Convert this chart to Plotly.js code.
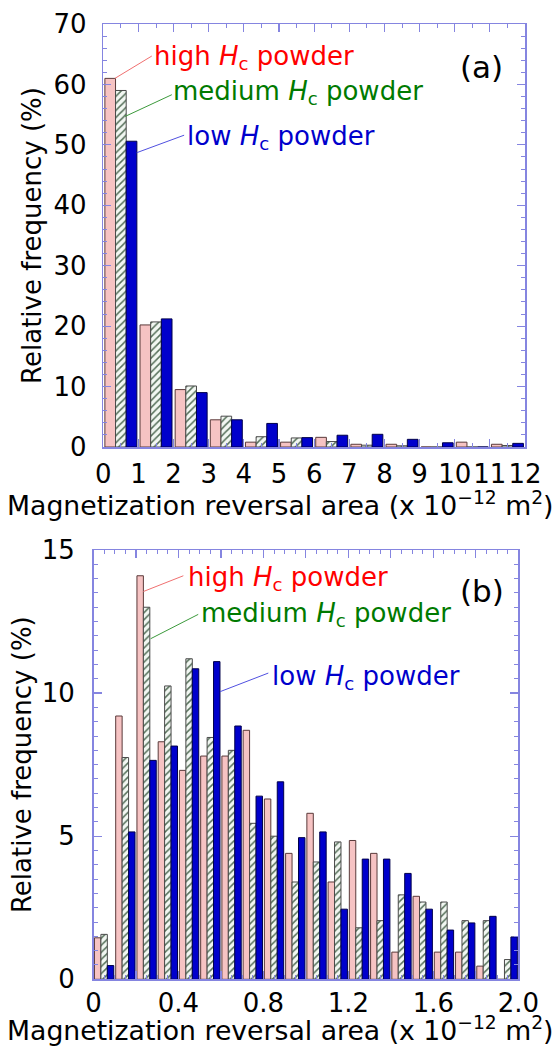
<!DOCTYPE html>
<html>
<head>
<meta charset="utf-8">
<script src="https://cdn.plot.ly/plotly-3.0.1.min.js"></script>
<style>html,body{margin:0;padding:0;background:#fff}#chart{width:557px;height:1046px}</style>
</head>
<body>
<div id="chart"></div>
<script>
// ---- Data: panel (a), bins of width 1 (x 10^-12 m^2) ----
const binsA = [0,1,2,3,4,5,6,7,8,9,10,11];
const highA   = [61.0, 20.2, 9.5, 4.5, 0.8, 0.8, 1.6, 0.45, 0.45, 0, 0.8, 0.45];
const mediumA = [59.0, 20.7, 10.1, 5.1, 1.7, 1.5, 0.9, 0.3, 0.2, 0, 0, 0.25];
const lowA    = [50.6, 21.2, 9.0, 4.5, 3.9, 1.55, 1.95, 2.1, 1.27, 0.7, 0, 0.6];
const tickLabelsA = ['0','1','2','3','4','5','6','7','8','9','10','11','12'];

// ---- Data: panel (b), bins of width 0.1 ----
const binsB = [0,0.1,0.2,0.3,0.4,0.5,0.6,0.7,0.8,0.9,1.0,1.1,1.2,1.3,1.4,1.5,1.6,1.7,1.8,1.9];
const highB   = [1.45, 9.2, 14.1, 8.3, 7.3, 7.8, 7.8, 8.7, 6.3, 4.4, 5.8, 3.4, 4.85, 4.4, 0.95, 2.9, 0.95, 0.95, 0.46, 0];
const mediumB = [1.57, 7.75, 13.0, 10.25, 11.2, 8.45, 8.0, 5.45, 5.0, 3.4, 4.1, 4.8, 1.8, 2.05, 2.95, 2.7, 2.7, 2.05, 2.05, 0.69];
const lowB    = [0.48, 5.15, 7.65, 8.15, 10.85, 11.1, 8.85, 6.4, 6.9, 4.95, 5.15, 2.45, 4.2, 4.2, 3.7, 2.45, 1.72, 1.97, 2.2, 1.48];
const tickValsB = [0,0.2,0.4,0.6,0.8,1.0,1.2,1.4,1.6,1.8,2.0];
const tickLabelsB = ['0','','0.4','','0.8','','1.2','','1.6','','2.0'];

const seriesNames = ['high H<sub>c</sub> powder','medium H<sub>c</sub> powder','low H<sub>c</sub> powder'];

// ---- styling ----
const W = 557, H = 1046;
const FONT = 'DejaVu Sans';
const AX = '#8585e0';
const pinkMarker = {color:'#f6c3c3', line:{color:'#5a3a3a', width:1}};
const greenMarker = {color:'#f2f7f2', line:{color:'#4a4a4a', width:1},
  pattern:{shape:'/', fgcolor:'#56705a', bgcolor:'#f2f7f2', size:5, solidity:0.3, fillmode:'replace'}};
const blueMarker = {color:'#0000cc', line:{color:'#00004a', width:1}};

function centers(bins, w){ return bins.map(b => b + w/2); }
const xA = centers(binsA, 1);
const xB = centers(binsB, 0.1);

const traces = [
  {type:'bar', x:xA, y:highA, name:seriesNames[0], marker:pinkMarker, xaxis:'x', yaxis:'y'},
  {type:'bar', x:xA, y:mediumA, name:seriesNames[1], marker:greenMarker, xaxis:'x', yaxis:'y'},
  {type:'bar', x:xA, y:lowA, name:seriesNames[2], marker:blueMarker, xaxis:'x', yaxis:'y'},
  {type:'bar', x:xB, y:highB, name:seriesNames[0], marker:pinkMarker, xaxis:'x2', yaxis:'y2'},
  {type:'bar', x:xB, y:mediumB, name:seriesNames[1], marker:greenMarker, xaxis:'x2', yaxis:'y2'},
  {type:'bar', x:xB, y:lowB, name:seriesNames[2], marker:blueMarker, xaxis:'x2', yaxis:'y2'}
];

const px = x => x / W;
const py = y => 1 - y / H;

const tickFont = {family:FONT, size:26, color:'#000'};
const titleFont = {family:FONT, size:26, color:'#000'};
const xTitle = 'Magnetization reversal area (x 10<sup>−12</sup> m<sup>2</sup>)';
const yTitle = 'Relative frequency (%)';

function axisBase(){
  return {showline:true, mirror:'ticks', linecolor:AX, linewidth:1.5,
    ticks:'inside', ticklen:8, tickwidth:1.2, tickcolor:AX,
    showgrid:false, zeroline:false, tickfont:tickFont, fixedrange:true};
}

const layout = {
  width:W, height:H, margin:{l:0,r:0,t:0,b:0},
  paper_bgcolor:'#fff', plot_bgcolor:'#fff',
  showlegend:false, barmode:'group', bargap:0.09, bargroupgap:0,
  font:{family:FONT, color:'#000'},
  xaxis: Object.assign(axisBase(), {domain:[px(103.3), px(525)], anchor:'y', range:[0,12],
    tickvals:[0,1,2,3,4,5,6,7,8,9,10,11,12], ticktext:tickLabelsA, ticklabelstandoff:3,
    minor:{dtick:0.5, tick0:0, ticks:'inside', ticklen:4, tickcolor:AX, tickwidth:1}}),
  yaxis: Object.assign(axisBase(), {domain:[py(447), py(24)], anchor:'x', range:[0,70],
    dtick:10, tick0:0, ticklabelstandoff:10,
    minor:{dtick:2, tick0:0, ticks:'inside', ticklen:4, tickcolor:AX, tickwidth:1},
    title:{text:yTitle, font:titleFont}}),
  xaxis2: Object.assign(axisBase(), {domain:[px(93.5), px(518.3)], anchor:'y2', range:[0,2.0],
    tickvals:tickValsB, ticktext:tickLabelsB, ticklabelstandoff:0,
    minor:{dtick:0.05, tick0:0, ticks:'inside', ticklen:4, tickcolor:AX, tickwidth:1}}),
  yaxis2: Object.assign(axisBase(), {domain:[py(979.3), py(550)], anchor:'x2', range:[0,15],
    dtick:5, tick0:0, ticklabelstandoff:12,
    minor:{dtick:0.5, tick0:0, ticks:'inside', ticklen:4, tickcolor:AX, tickwidth:1},
    title:{text:yTitle, font:titleFont}}),
  shapes:[
    {type:'line', xref:'x', yref:'y', x0:0.33, y0:61.0, x1:1.38, y1:64.7, line:{color:'#f07070', width:1}},
    {type:'line', xref:'x', yref:'y', x0:0.62, y0:54.7, x1:1.95, y1:58.3, line:{color:'#3c9a3c', width:1}},
    {type:'line', xref:'x', yref:'y', x0:0.95, y0:48.7, x1:2.30, y1:51.6, line:{color:'#5050e0', width:1}},
    {type:'line', xref:'x2', yref:'y2', x0:0.235, y0:13.55, x1:0.423, y1:14.1, line:{color:'#f07070', width:1}},
    {type:'line', xref:'x2', yref:'y2', x0:0.269, y0:11.9, x1:0.493, y1:12.75, line:{color:'#3c9a3c', width:1}},
    {type:'line', xref:'x2', yref:'y2', x0:0.596, y0:10.05, x1:0.823, y1:10.7, line:{color:'#5050e0', width:1}}
  ],
  annotations:[
    {xref:'paper', yref:'paper', x:px(280), y:py(504), xanchor:'center', yanchor:'middle', showarrow:false,
      text:xTitle, font:{family:FONT, size:26.7, color:'#000'}},
    {xref:'paper', yref:'paper', x:px(280), y:py(1029), xanchor:'center', yanchor:'middle', showarrow:false,
      text:xTitle, font:{family:FONT, size:26.7, color:'#000'}},
    {xref:'paper', yref:'paper', x:px(152), y:py(58), xanchor:'left', yanchor:'middle', showarrow:false,
      text:'high <i>H</i><sub>c</sub> powder', font:{family:FONT, size:26, color:'#ff0000'}},
    {xref:'paper', yref:'paper', x:px(171), y:py(93), xanchor:'left', yanchor:'middle', showarrow:false,
      text:'medium <i>H</i><sub>c</sub> powder', font:{family:FONT, size:26, color:'#007a00'}},
    {xref:'paper', yref:'paper', x:px(185), y:py(138), xanchor:'left', yanchor:'middle', showarrow:false,
      text:'low <i>H</i><sub>c</sub> powder', font:{family:FONT, size:26, color:'#0000cc'}},
    {xref:'paper', yref:'paper', x:px(482), y:py(67), xanchor:'center', yanchor:'middle', showarrow:false,
      text:'(a)', font:{family:FONT, size:31, color:'#000'}},
    {xref:'paper', yref:'paper', x:px(186), y:py(578), xanchor:'left', yanchor:'middle', showarrow:false,
      text:'high <i>H</i><sub>c</sub> powder', font:{family:FONT, size:26, color:'#ff0000'}},
    {xref:'paper', yref:'paper', x:px(199), y:py(614), xanchor:'left', yanchor:'middle', showarrow:false,
      text:'medium <i>H</i><sub>c</sub> powder', font:{family:FONT, size:26, color:'#007a00'}},
    {xref:'paper', yref:'paper', x:px(270), y:py(677), xanchor:'left', yanchor:'middle', showarrow:false,
      text:'low <i>H</i><sub>c</sub> powder', font:{family:FONT, size:26, color:'#0000cc'}},
    {xref:'paper', yref:'paper', x:px(482), y:py(591), xanchor:'center', yanchor:'middle', showarrow:false,
      text:'(b)', font:{family:FONT, size:31, color:'#000'}}
  ]
};

Plotly.newPlot('chart', traces, layout, {staticPlot:true, displayModeBar:false});
</script>
</body>
</html>
